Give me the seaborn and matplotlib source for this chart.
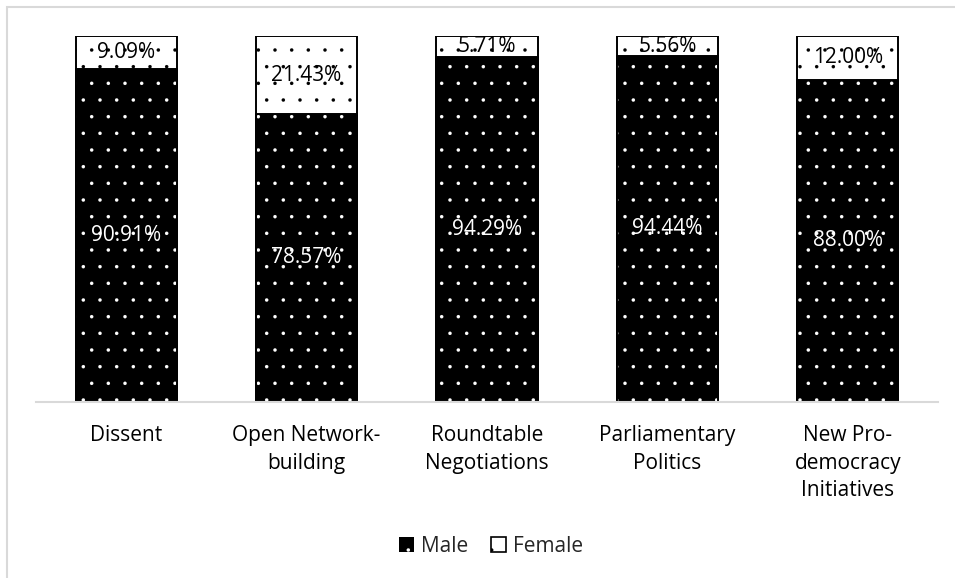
import matplotlib
matplotlib.use("Agg")
import matplotlib.pyplot as plt
from matplotlib.patches import Patch, Rectangle
import seaborn as sns
import pandas as pd

categories = ["Dissent", "Open Network-\nbuilding", "Roundtable\nNegotiations",
              "Parliamentary\nPolitics", "New Pro-\ndemocracy\nInitiatives"]
male = [90.91, 78.57, 94.29, 94.44, 88.00]
female = [9.09, 21.43, 5.71, 5.56, 12.00]

df = pd.DataFrame({"category": categories, "Male": male, "Female": female})
df["Total"] = df["Male"] + df["Female"]

sns.set_theme(style="white")
plt.rcParams["font.family"] = ["Open Sans", "DejaVu Sans"]
plt.rcParams["hatch.linewidth"] = 0.1

fig = plt.figure(figsize=(9.55, 5.78), dpi=100)
W, H = 955, 578
ax = fig.add_axes([36 / W, 1 - 401.5 / H, (938 - 36) / W, (401.5 - 36) / H])

# Female segment drawn as the full stack, male segment drawn over its lower part
sns.barplot(data=df, x="category", y="Total", ax=ax, color="white", width=0.56)
n = len(categories)
for p in ax.patches[:n]:
    p.set_facecolor("white")
    p.set_edgecolor("black")
    p.set_linewidth(1.4)
    p.set_hatch(".")

sns.barplot(data=df, x="category", y="Male", ax=ax, color="black", width=0.56)
for p in ax.patches[n:]:
    p.set_facecolor("black")
    p.set_edgecolor("white")
    p.set_linewidth(0)
    p.set_hatch(".")
    # outline of the male segment
    ax.add_patch(Rectangle((p.get_x(), 0), p.get_width(), p.get_height(),
                           fill=False, edgecolor="black", linewidth=1.4, zorder=2))

ax.set_ylim(0, 100)
ax.set_xlim(-0.5, n - 0.5)
ax.set_xlabel("")
ax.set_ylabel("")
ax.set_yticks([])
ax.tick_params(axis="x", length=0, pad=17, labelsize=15, colors="#000000")
ax.set_xticks(range(n))
ax.set_xticklabels(categories, linespacing=1.4, va="top")
for s in ["top", "right", "left"]:
    ax.spines[s].set_visible(False)
ax.spines["bottom"].set_color("#d9d9d9")
ax.spines["bottom"].set_linewidth(1.5)
ax.spines["bottom"].set_zorder(5)

for i in range(n):
    ax.text(i, male[i] / 2, f"{male[i]:.2f}%", ha="center", va="center",
            color="white", fontsize=15, zorder=6)
    ax.text(i, male[i] + female[i] / 2, f"{female[i]:.2f}%", ha="center",
            va="center", color="black", fontsize=15, zorder=6)

handles = [Patch(facecolor="black", edgecolor="white", hatch=".", linewidth=0),
           Patch(facecolor="white", edgecolor="black", hatch=".", linewidth=1.2)]
fig.legend(handles, ["Male", "Female"], loc="center", bbox_to_anchor=(491 / W, 1 - 546 / H),
           ncol=2, frameon=False, fontsize=15, handlelength=0.72, handleheight=0.72,
           handletextpad=0.35, columnspacing=1.1)

# chart area frame
fig.add_artist(Rectangle((6.5 / W, -0.1), 1.2, 1.1 - 7 / H, transform=fig.transFigure,
                         fill=False, edgecolor="#d9d9d9", linewidth=1.5))

fig.savefig("out.png", dpi=100, facecolor="white")
